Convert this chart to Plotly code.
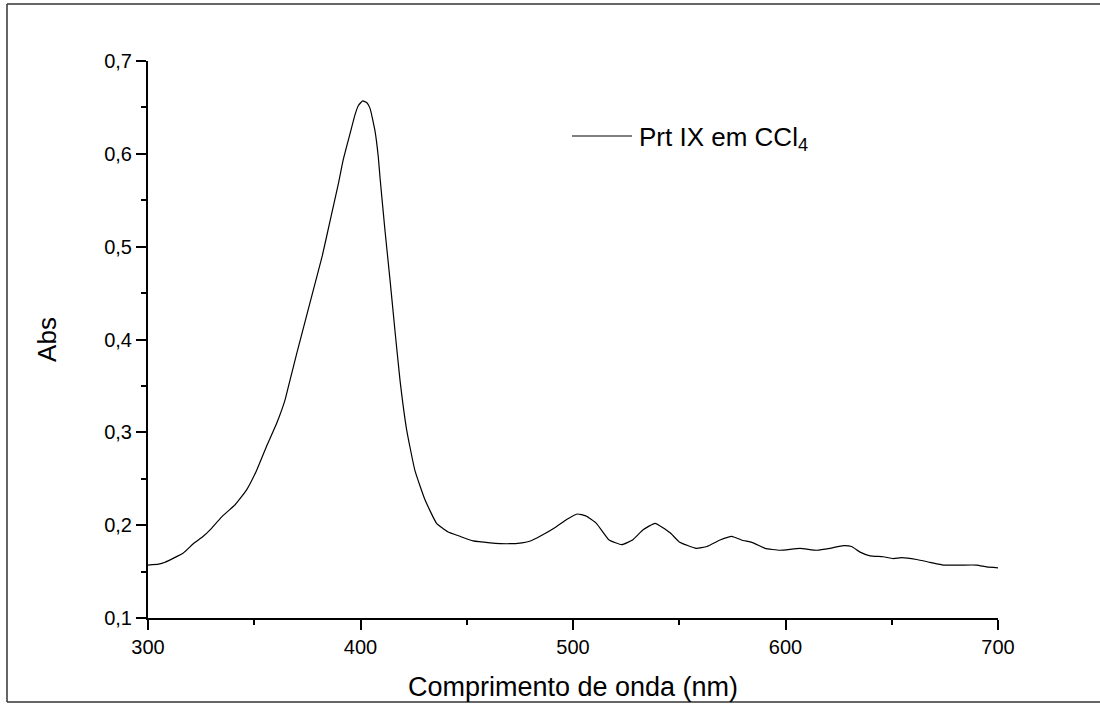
import plotly.graph_objects as go

wavelength = [300, 305, 308, 316.6, 321.3, 326, 329.2, 334.7, 341, 346.4, 351.1, 355.8, 360.6, 364.5,
              366.8, 370, 374, 378, 382, 385.6, 389.6, 391.9, 395.1, 397.4, 399, 401, 403, 404.5,
              406.8, 408.4, 409.2, 411.5, 413.9, 416.2, 418.6, 421.7, 425.6, 430.4, 435.8, 441,
              446.8, 453, 461, 469, 476, 480, 484.5, 492, 497, 502, 506, 511, 517, 523, 528, 533,
              538.6, 545.6, 550, 558, 563, 569.2, 574.7, 579.3, 584.8, 590.4, 597.4, 606.8, 614.7,
              620.9, 627.2, 631.1, 635.1, 639.8, 646, 650.7, 654.7, 661.7, 668, 674.3, 682.2, 690,
              694.7, 700]
absorbance = [0.157, 0.158, 0.160, 0.170, 0.180, 0.188, 0.195, 0.209, 0.222, 0.238, 0.259, 0.285, 0.310, 0.335,
              0.356, 0.385, 0.42, 0.455, 0.49, 0.527, 0.568, 0.594, 0.622, 0.642, 0.652, 0.657, 0.655, 0.649,
              0.625, 0.596, 0.574, 0.518, 0.464, 0.410, 0.356, 0.303, 0.259, 0.227, 0.202, 0.193,
              0.188, 0.183, 0.181, 0.180, 0.181, 0.183, 0.188, 0.198, 0.206, 0.212, 0.210, 0.202, 0.184, 0.179, 0.184, 0.195,
              0.202, 0.192, 0.182, 0.175, 0.177, 0.184, 0.188, 0.184, 0.181, 0.175, 0.173, 0.175, 0.173,
              0.175, 0.178, 0.177, 0.171, 0.167, 0.166, 0.164, 0.165, 0.163, 0.160, 0.157, 0.157, 0.157,
              0.155, 0.154]

x_ticks = [300, 400, 500, 600, 700]
y_ticks = [0.1, 0.2, 0.3, 0.4, 0.5, 0.6, 0.7]
y_tick_labels = ["0,1", "0,2", "0,3", "0,4", "0,5", "0,6", "0,7"]
series_name = "Prt IX em CCl<sub>4</sub>"

FONT = "Liberation Sans, Arial, sans-serif"

fig = go.Figure()
fig.add_trace(go.Scatter(x=wavelength, y=absorbance, mode="lines", name=series_name,
                         line=dict(color="black", width=1.2, shape="spline", smoothing=0.4),
                         showlegend=False))

L, R, T, B = 148, 102, 61, 86
W, H = 1100, 704
pw, ph = W - L - R, H - T - B

def px(xp):
    return (xp - L) / pw

def py(yp):
    return (H - B - yp) / ph

frame = dict(color="#333333", width=1.5)
fig.update_layout(
    width=W, height=H,
    margin=dict(l=L, r=R, t=T, b=B, autoexpand=False),
    paper_bgcolor="white", plot_bgcolor="white",
    font=dict(family=FONT, color="black"),
    xaxis=dict(range=[300, 700], tickvals=x_ticks, ticks="outside", ticklen=10, tickwidth=2,
               tickcolor="black", showline=True, linecolor="black", linewidth=2, automargin=False,
               showgrid=False, zeroline=False, tickfont=dict(size=20),
               minor=dict(dtick=50, tick0=300, ticks="outside", ticklen=5, tickwidth=2, tickcolor="black"),
               title=dict(text="Comprimento de onda (nm)", font=dict(size=27), standoff=20)),
    yaxis=dict(range=[0.1, 0.7], tickvals=y_ticks, ticktext=y_tick_labels, ticks="outside",
               ticklen=10, tickwidth=2, tickcolor="black", showline=True, linecolor="black",
               linewidth=2, showgrid=False, zeroline=False, tickfont=dict(size=20), automargin=False,
               minor=dict(dtick=0.05, tick0=0.1, ticks="outside", ticklen=5, tickwidth=2, tickcolor="black"),
               title=dict(text="Abs", font=dict(size=26), standoff=40)),
    shapes=[
        dict(type="line", xref="paper", yref="paper", x0=px(7), x1=px(1100), y0=py(4), y1=py(4), line=frame),
        dict(type="line", xref="paper", yref="paper", x0=px(7), x1=px(1100), y0=py(702), y1=py(702), line=frame),
        dict(type="line", xref="paper", yref="paper", x0=px(7), x1=px(7), y0=py(4), y1=py(702), line=frame),
        dict(type="line", xref="paper", yref="paper", x0=px(572), x1=px(632), y0=py(136), y1=py(136),
             line=dict(color="black", width=1.2)),
    ],
    annotations=[
        dict(xref="paper", yref="paper", x=px(637), y=py(138), text=series_name, showarrow=False,
             xanchor="left", yanchor="middle", font=dict(size=26, family=FONT, color="black")),
    ],
)

fig.write_html("out.html", config={"displayModeBar": False},
               post_script="document.body.style.margin='0';document.body.style.padding='0';")
